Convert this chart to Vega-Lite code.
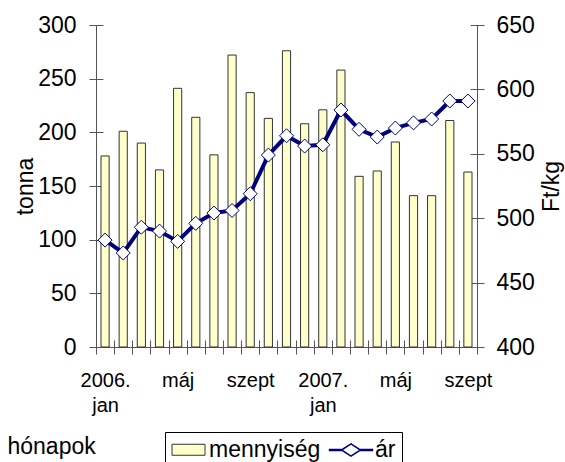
{
  "$schema": "https://vega.github.io/schema/vega-lite/v6.json",
  "autosize": {"type": "none"},
  "padding": {"left": 96, "top": 25, "right": 88, "bottom": 115},
  "width": 381,
  "height": 322,
  "background": "white",
  "config": {
    "font": "Liberation Sans",
    "view": {"stroke": "#555555", "strokeWidth": 1, "strokeDash": [1025, 381], "strokeDashOffset": 1025},
    "axis": {"labelFont": "Liberation Sans", "titleFont": "Liberation Sans", "labelColor": "#000000", "titleColor": "#000000", "tickColor": "#555555", "titleFontWeight": "normal", "grid": false, "domain": false},
    "legend": {"labelFont": "Liberation Sans", "labelColor": "#000000"}
  },
  "data": {
    "values": [
      {"honap": "2006. jan", "mennyiseg": 178, "ar": 483},
      {"honap": "2006. febr", "mennyiseg": 201, "ar": 473},
      {"honap": "2006. márc", "mennyiseg": 190, "ar": 493},
      {"honap": "2006. ápr", "mennyiseg": 165, "ar": 490},
      {"honap": "2006. máj", "mennyiseg": 241, "ar": 482},
      {"honap": "2006. jún", "mennyiseg": 214, "ar": 496},
      {"honap": "2006. júl", "mennyiseg": 179, "ar": 504},
      {"honap": "2006. aug", "mennyiseg": 272, "ar": 506},
      {"honap": "2006. szept", "mennyiseg": 237, "ar": 519},
      {"honap": "2006. okt", "mennyiseg": 213, "ar": 549},
      {"honap": "2006. nov", "mennyiseg": 276, "ar": 564},
      {"honap": "2006. dec", "mennyiseg": 208, "ar": 556},
      {"honap": "2007. jan", "mennyiseg": 221, "ar": 557},
      {"honap": "2007. febr", "mennyiseg": 258, "ar": 584},
      {"honap": "2007. márc", "mennyiseg": 159, "ar": 569},
      {"honap": "2007. ápr", "mennyiseg": 164, "ar": 563},
      {"honap": "2007. máj", "mennyiseg": 191, "ar": 570},
      {"honap": "2007. jún", "mennyiseg": 141, "ar": 574},
      {"honap": "2007. júl", "mennyiseg": 141, "ar": 577},
      {"honap": "2007. aug", "mennyiseg": 211, "ar": 591},
      {"honap": "2007. szept", "mennyiseg": 163, "ar": 591}
    ]
  },
  "encoding": {
    "x": {
      "field": "honap",
      "type": "nominal",
      "sort": null,
      "scale": {"paddingInner": 0, "paddingOuter": 0},
      "axis": {
        "title": "hónapok",
        "titleFontSize": 23,
        "titleAnchor": "start",
        "titleAlign": "left",
        "titleBaseline": "alphabetic",
        "titleX": -89,
        "titleY": 113,
        "labelAngle": 0,
        "labelFontSize": 20,
        "labelLineHeight": 25,
        "labelOverlap": false,
        "labelPadding": 16,
        "labelBaseline": "top",
        "tickBand": "extent",
        "tickSize": 14,
        "offset": -7,
        "labelExpr": "datum.value == '2006. jan' ? ['2006.', 'jan'] : datum.value == '2007. jan' ? ['2007.', 'jan'] : (indexof(['2006. máj', '2006. szept', '2007. máj', '2007. szept'], datum.value) >= 0 ? split(datum.value, ' ')[1] : '')"
      }
    }
  },
  "layer": [
    {
      "mark": {"type": "bar", "width": {"band": 0.45}, "strokeWidth": 1},
      "encoding": {
        "y": {
          "field": "mennyiseg",
          "type": "quantitative",
          "scale": {"domain": [0, 300], "nice": false},
          "axis": {
            "orient": "left",
            "title": "tonna",
            "titleFontSize": 23,
            "titlePadding": 0,
            "values": [0, 50, 100, 150, 200, 250, 300],
            "labelFontSize": 23,
            "labelPadding": 13,
            "tickSize": 14,
            "offset": -7
          }
        },
        "fill": {
          "datum": "mennyiség",
          "type": "nominal",
          "scale": {"domain": ["mennyiség", "ár"], "range": ["#ffffcc", "rgba(0,0,0,0)"]},
          "legend": {
            "title": null,
            "orient": "none",
            "legendX": 69,
            "legendY": 407,
            "direction": "horizontal",
            "strokeColor": "#000000",
            "padding": 6,
            "labelFontSize": 23,
            "labelOffset": 9,
            "columnPadding": 15,
            "symbolOffset": 6,
            "symbolSize": 484,
            "symbolType": "M-1.5,-0.5H1.5V0.5H-1.5Z",
            "symbolStrokeWidth": 1
          }
        },
        "stroke": {
          "datum": "mennyiség",
          "type": "nominal",
          "scale": {"domain": ["mennyiség", "ár"], "range": ["#333333", "rgba(0,0,0,0)"]},
          "legend": {
            "title": null,
            "orient": "none",
            "legendX": 69,
            "legendY": 407,
            "direction": "horizontal",
            "strokeColor": "#000000",
            "padding": 6,
            "labelFontSize": 23,
            "labelOffset": 9,
            "columnPadding": 15,
            "symbolOffset": 6,
            "symbolSize": 484,
            "symbolType": "M-1.5,-0.5H1.5V0.5H-1.5Z",
            "symbolStrokeWidth": 1
          }
        }
      }
    },
    {
      "encoding": {
        "y": {
          "field": "ar",
          "type": "quantitative",
          "scale": {"domain": [400, 650], "nice": false},
          "axis": {
            "orient": "right",
            "title": "Ft/kg",
            "titleFontSize": 23,
            "titleAngle": -90,
            "titleBaseline": "top",
            "titlePadding": 6,
            "values": [400, 450, 500, 550, 600, 650],
            "labelFontSize": 23,
            "labelPadding": 12,
            "tickSize": 14,
            "offset": -7
          }
        }
      },
      "layer": [
        {
          "mark": {"type": "line", "strokeWidth": 4, "color": "#000080"},
          "encoding": {
            "opacity": {
              "datum": "ár",
              "type": "ordinal",
              "scale": {"domain": ["ár"], "range": [1]},
              "legend": {
                "title": null,
                "orient": "none",
                "legendX": 237,
                "legendY": 407,
                "padding": 6,
                "labelFontSize": 23,
                "labelExpr": "' '",
                "symbolSize": 484,
                "symbolType": "M-1.95,-0.05H-0.86V0.05H-1.95Z M0.86,-0.05H1.95V0.05H0.86Z M-0.86,0L0,-0.55L0.86,0L0,0.55Z",
                "symbolFillColor": "#ffffff",
                "symbolStrokeColor": "#000080",
                "symbolStrokeWidth": 1.5,
                "symbolOpacity": 1
              }
            }
          }
        },
        {
          "mark": {"type": "point", "shape": "diamond", "size": 196, "filled": true, "fill": "#ffffff", "stroke": "#000080", "strokeWidth": 1, "opacity": 1}
        }
      ]
    }
  ],
  "resolve": {"scale": {"y": "independent"}}
}
